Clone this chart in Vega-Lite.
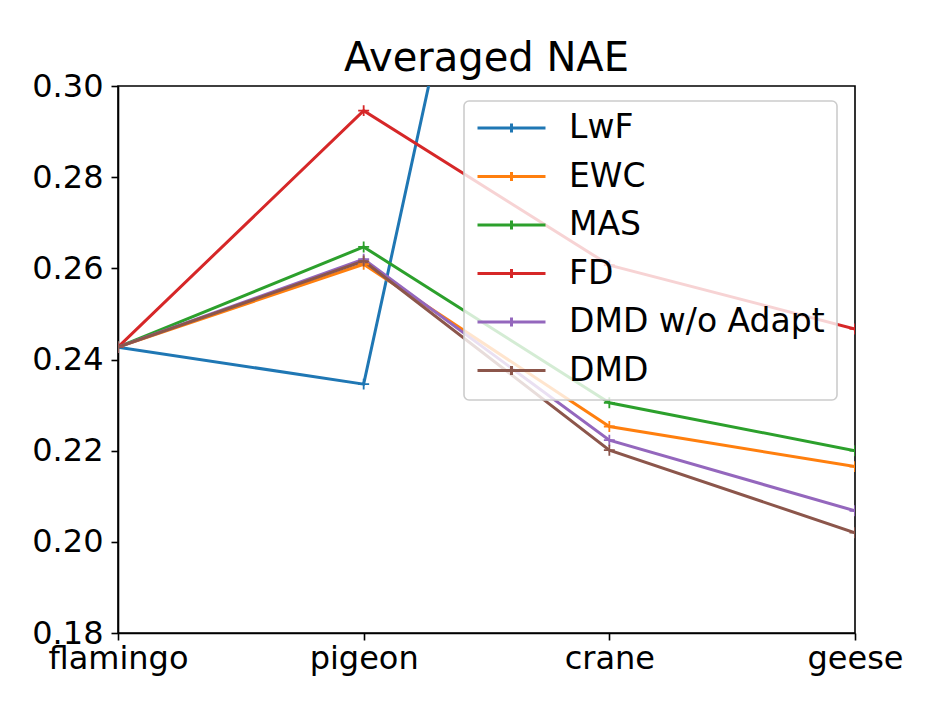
{
  "$schema": "https://vega.github.io/schema/vega-lite/v6.json",
  "autosize": {"type": "none"},
  "width": 737,
  "height": 547,
  "padding": {"left": 118, "top": 86, "right": 96, "bottom": 80},
  "background": "white",
  "config": {
    "font": "DejaVu Sans",
    "view": {"stroke": "black", "strokeWidth": 1.6},
    "axis": {
      "domainColor": "black",
      "domainWidth": 1.6,
      "tickColor": "black",
      "tickWidth": 1.6,
      "tickSize": 7,
      "labelFontSize": 32,
      "labelColor": "black",
      "grid": false,
      "title": null
    },
    "legend": {"strokeWidth": 1.6}
  },
  "title": {
    "text": "Averaged NAE",
    "fontSize": 40,
    "fontWeight": "normal",
    "color": "black",
    "offset": -9,
    "anchor": "middle"
  },
  "data": {
    "values": [
      {"task": "flamingo", "method": "LwF", "nae": 0.2427},
      {"task": "pigeon", "method": "LwF", "nae": 0.2346},
      {"task": "crane", "method": "LwF", "nae": 0.482},
      {"task": "geese", "method": "LwF", "nae": 0.50},
      {"task": "flamingo", "method": "EWC", "nae": 0.2427},
      {"task": "pigeon", "method": "EWC", "nae": 0.2609},
      {"task": "crane", "method": "EWC", "nae": 0.2253},
      {"task": "geese", "method": "EWC", "nae": 0.2165},
      {"task": "flamingo", "method": "MAS", "nae": 0.2427},
      {"task": "pigeon", "method": "MAS", "nae": 0.2647},
      {"task": "crane", "method": "MAS", "nae": 0.2305},
      {"task": "geese", "method": "MAS", "nae": 0.2200},
      {"task": "flamingo", "method": "FD", "nae": 0.2427},
      {"task": "pigeon", "method": "FD", "nae": 0.2946},
      {"task": "crane", "method": "FD", "nae": 0.2607},
      {"task": "geese", "method": "FD", "nae": 0.2467},
      {"task": "flamingo", "method": "DMD w/o Adapt", "nae": 0.2427},
      {"task": "pigeon", "method": "DMD w/o Adapt", "nae": 0.2620},
      {"task": "crane", "method": "DMD w/o Adapt", "nae": 0.2223},
      {"task": "geese", "method": "DMD w/o Adapt", "nae": 0.2068},
      {"task": "flamingo", "method": "DMD", "nae": 0.2427},
      {"task": "pigeon", "method": "DMD", "nae": 0.2616},
      {"task": "crane", "method": "DMD", "nae": 0.2201},
      {"task": "geese", "method": "DMD", "nae": 0.2020}
    ]
  },
  "mark": {
    "type": "line",
    "clip": true,
    "strokeWidth": 3,
    "point": {
      "shape": "M-1,0H1M0,-1V1",
      "filled": false,
      "size": 120,
      "strokeWidth": 1.8
    }
  },
  "encoding": {
    "x": {
      "field": "task",
      "type": "ordinal",
      "sort": ["flamingo", "pigeon", "crane", "geese"],
      "scale": {"type": "point", "padding": 0},
      "axis": {"labelAngle": 0, "labelPadding": 3}
    },
    "y": {
      "field": "nae",
      "type": "quantitative",
      "scale": {"domain": [0.18, 0.30], "nice": false, "zero": false},
      "axis": {"values": [0.18, 0.20, 0.22, 0.24, 0.26, 0.28, 0.30], "format": ".2f", "labelPadding": 8}
    },
    "color": {
      "field": "method",
      "type": "nominal",
      "sort": ["LwF", "EWC", "MAS", "FD", "DMD w/o Adapt", "DMD"],
      "scale": {
        "domain": ["LwF", "EWC", "MAS", "FD", "DMD w/o Adapt", "DMD"],
        "range": ["#1f77b4", "#ff7f0e", "#2ca02c", "#d62728", "#9467bd", "#8c564b"]
      },
      "legend": {
        "title": null,
        "orient": "none",
        "legendX": 346,
        "legendY": 15,
        "fillColor": "rgba(255,255,255,0.8)",
        "strokeColor": "#cccccc",
        "cornerRadius": 5,
        "padding": 12,
        "symbolType": "M-1,0H1M0,-0.13V0.13",
        "symbolSize": 4624,
        "symbolStrokeWidth": 3,
        "symbolFillColor": "transparent",
        "labelFontSize": 33,
        "labelColor": "black",
        "labelLimit": 400,
        "labelOffset": 22,
        "clipHeight": 30,
        "rowPadding": 15.5
      }
    }
  }
}
